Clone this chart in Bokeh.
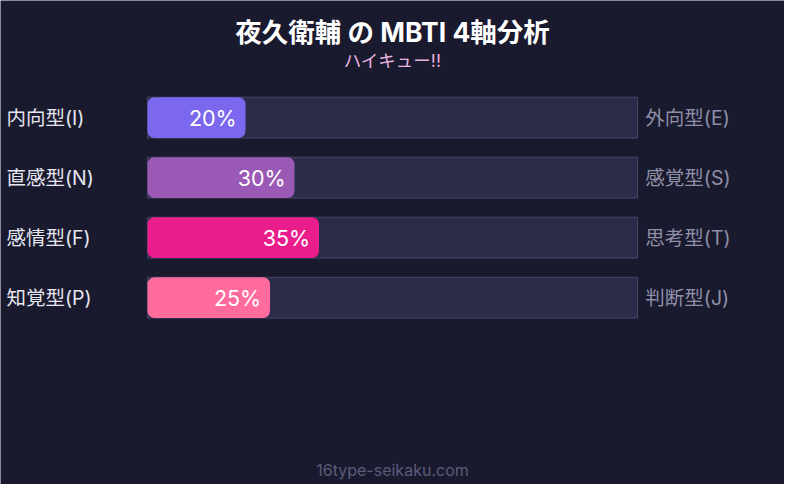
from bokeh.plotting import figure
from bokeh.models import Range1d, Label
from bokeh.embed import file_html
from bokeh.resources import INLINE
from bokeh.core.properties import value

# data
left_labels = ["内向型(I)", "直感型(N)", "感情型(F)", "知覚型(P)"]
right_labels = ["外向型(E)", "感覚型(S)", "思考型(T)", "判断型(J)"]
percents = [20, 30, 35, 25]
bar_colors = ["#7b68ee", "#9b59b6", "#e91e8c", "#ff6b9d"]
title_text = "夜久衛輔 の MBTI 4軸分析"
subtitle_text = "ハイキュー!!"
footer_text = "16type-seikaku.com"

FONT = "Inter, 'Noto Sans CJK JP', sans-serif"
BG = "#1a1a2e"

rows = list(range(len(percents)))

p = figure(width=784, height=484, output_backend="svg", toolbar_location=None,
           x_range=Range1d(-30, 130), y_range=Range1d(6.113, -1.952),
           background_fill_color=BG, border_fill_color=BG,
           min_border=0, outline_line_color=None)
p.axis.visible = False
p.grid.visible = False

# background tracks
p.hbar(y=rows, left=0, right=100, height=0.68,
       fill_color="#2d2b4a", line_color="#454468", line_width=1)

# filled parts
p.hbar(y=rows, left=0, right=percents, height=0.68,
       fill_color=bar_colors, line_color=None, border_radius=7)

# percentage labels inside bars
p.text(x=[v - 1.8 for v in percents], y=rows, text=[f"{v}%" for v in percents],
       text_align="right", text_baseline="middle", text_color="white",
       text_font=value(FONT), text_font_size="21.5px")

# axis labels
p.text(x=-28.8, y=rows, text=left_labels, text_align="left", text_baseline="middle",
       text_color="#e6e6f0", text_font=value(FONT), text_font_size="19.5px")
p.text(x=101.6, y=rows, text=right_labels, text_align="left", text_baseline="middle",
       text_color="#8f8fa8", text_font=value(FONT), text_font_size="19.5px")

p.add_layout(Label(x=50, y=-1.42, text=title_text, text_align="center",
                   text_baseline="middle", text_color="white", text_font=FONT,
                   text_font_style="bold", text_font_size="26.5px"))
p.add_layout(Label(x=50, y=-0.95, text=subtitle_text, text_align="center",
                   text_baseline="middle", text_color="#e8b4e0", text_font=FONT,
                   text_font_size="17.5px"))
p.add_layout(Label(x=50, y=5.87, text=footer_text, text_align="center",
                   text_baseline="middle", text_color="#5c5c7a", text_font=FONT,
                   text_font_size="16px"))

open("out.html", "w").write(file_html(p, INLINE))
